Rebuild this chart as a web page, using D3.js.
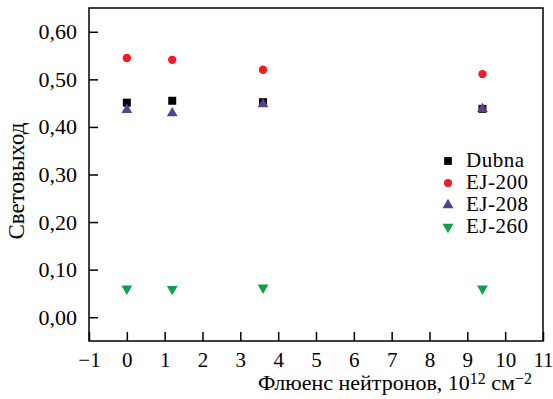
<!DOCTYPE html>
<html>
<head>
<meta charset="utf-8">
<script src="https://cdn.jsdelivr.net/npm/d3@7"></script>
<style>
  body { margin: 0; background: #fff; }
  svg { display: block; }
  svg text { font-family: "Liberation Serif", "Times New Roman", "DejaVu Serif", serif; }
</style>
</head>
<body>
<svg id="chart" width="553" height="399"></svg>
<script>
// data
const fluence = [0, 1.2, 3.6, 9.4];
const dubna = [0.451, 0.455, 0.452, 0.438];
const ej200 = [0.545, 0.541, 0.520, 0.511];
const ej208 = [0.436, 0.429, 0.448, 0.438];
const ej260 = [0.060, 0.059, 0.062, 0.060];

const seriesNames = ["Dubna", "EJ-200", "EJ-208", "EJ-260"];
const seriesColors = ["#000000", "#ee1c25", "#5b3f8c", "#0da14b"];
const seriesSymbols = [d3.symbolSquare, d3.symbolCircle, d3.symbolTriangle, d3.symbolTriangle];
const seriesValues = [dubna, ej200, ej208, ej260];

const xTicks = d3.range(-1, 12, 1);
const yTicks = [0, 0.1, 0.2, 0.3, 0.4, 0.5, 0.6];

const svg = d3.select("#chart");
const margin = { left: 89, top: 8, right: 10, bottom: 58 };
const width = 553, height = 399;

const x = d3.scaleLinear().domain([-1, 11]).range([margin.left, width - margin.right]);
const y = d3.scaleLinear().domain([-0.05, 0.65]).range([height - margin.bottom, margin.top]);

// frame
svg.append("rect")
    .attr("x", x(-1)).attr("y", y(0.65))
    .attr("width", x(11) - x(-1)).attr("height", y(-0.05) - y(0.65))
    .attr("fill", "none").attr("stroke", "#000").attr("stroke-width", 1.5);

// x axis, ticks pointing inward
const xAxis = svg.append("g").attr("transform", `translate(0,${y(-0.05)})`);
xAxis.call(d3.axisBottom(x).tickValues(d3.range(-0.5, 11, 1)).tickSize(-5).tickFormat(""));
xAxis.call(d3.axisBottom(x).tickValues(xTicks).tickSize(-9)
    .tickFormat(d => d < 0 ? "\u2212" + Math.abs(d) : d).tickPadding(11));
xAxis.attr("font-family", null);
xAxis.selectAll(".domain").remove();
xAxis.selectAll("line").attr("stroke", "#000").attr("stroke-width", 1.5);
xAxis.selectAll("text").attr("font-size", 21).attr("fill", "#000");

// y axis
const yAxis = svg.append("g").attr("transform", `translate(${x(-1)},0)`);
yAxis.call(d3.axisLeft(y).tickValues(d3.range(-0.025, 0.65, 0.025)).tickSize(-5).tickFormat(""));
yAxis.call(d3.axisLeft(y).tickValues(yTicks).tickSize(-9)
    .tickFormat(d => d3.format(".2f")(d).replace(".", ",")).tickPadding(12));
yAxis.attr("font-family", null);
yAxis.selectAll(".domain").remove();
yAxis.selectAll("line").attr("stroke", "#000").attr("stroke-width", 1.5);
yAxis.selectAll("text").attr("font-size", 22).attr("fill", "#000");

// points
const markerSize = [64, 56, 50, 50];
seriesValues.forEach((vals, i) => {
    const sym = d3.symbol().type(seriesSymbols[i]).size(markerSize[i]);
    svg.append("g").selectAll("path")
        .data(vals)
        .join("path")
        .attr("d", sym)
        .attr("fill", seriesColors[i])
        .attr("transform", (d, j) => `translate(${x(fluence[j])},${y(d)})` + (i === 3 ? " rotate(180)" : ""));
});

// legend
const legend = svg.append("g").attr("transform", "translate(448,161)");
seriesNames.forEach((name, i) => {
    const row = legend.append("g").attr("transform", `translate(0,${i * 22})`);
    row.append("path")
        .attr("d", d3.symbol().type(seriesSymbols[i]).size(i === 0 ? 60 : 52))
        .attr("fill", seriesColors[i])
        .attr("transform", i === 3 ? "rotate(180)" : null);
    row.append("text")
        .attr("x", 18).attr("y", 6)
        .attr("font-size", 21)
        .attr("textLength", [58, 62, 62, 62][i])
        .text(name);
});

// axis titles
const xt = svg.append("text")
    .attr("x", 395).attr("y", 390)
    .attr("text-anchor", "middle")
    .attr("font-size", 22);
xt.append("tspan").text("Флюенс нейтронов, 10");
xt.append("tspan").attr("dy", -6).attr("font-size", 16).text("12");
xt.append("tspan").attr("dy", 6).text(" см");
xt.append("tspan").attr("dy", -6).attr("font-size", 16).text("\u22122");

svg.append("text")
    .attr("transform", "translate(24,181) rotate(-90)")
    .attr("text-anchor", "middle")
    .attr("font-size", 23)
    .text("Световыход");
</script>
</body>
</html>
